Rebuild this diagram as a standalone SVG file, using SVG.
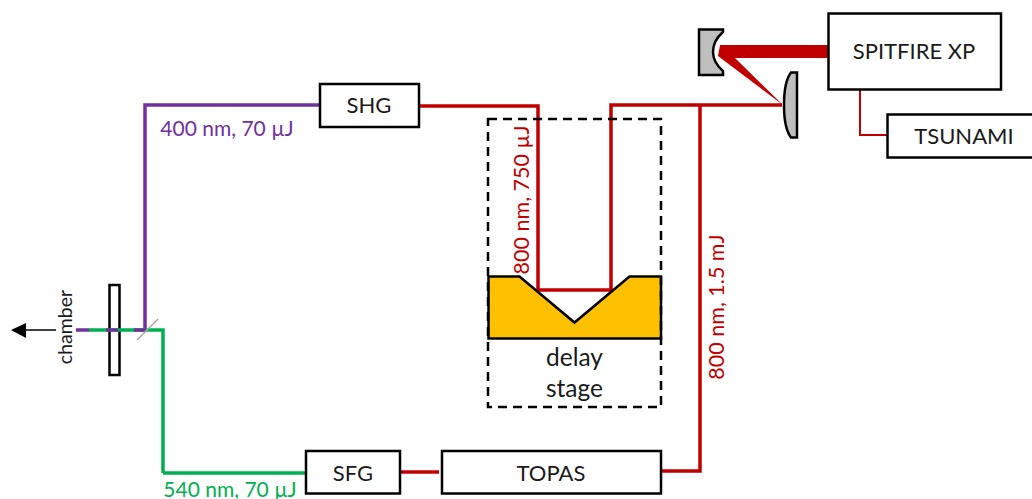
<svg xmlns="http://www.w3.org/2000/svg" width="1032" height="499" viewBox="0 0 1032 499">
<style>
text{font-family:"Lato","Liberation Sans",sans-serif;font-size:22px;fill:#1a1a1a;text-anchor:middle}
.box{fill:#fff;stroke:#000;stroke-width:2.5}
.mir{fill:#bfbfbf;stroke:#000;stroke-width:2.5}
.r{fill:none;stroke:#c00000;stroke-width:3.5}
.p{fill:none;stroke:#7030a0;stroke-width:3.5}
.g{fill:none;stroke:#00b050;stroke-width:3.5}
text.lr{fill:#c00000;font-size:21.500px}
text.lp{fill:#7030a0;font-size:21px}
text.lg{fill:#00b050;font-size:21px}
</style>
<rect width="1032" height="499" fill="#fff"/>
<g id="plate"><rect class="box" x="109.500" y="285" width="10" height="90"/></g>
<g id="connectors">
<path class="r" d="M419 106H538V290H611V105H782"/>
<path class="r" d="M700 105V471H662"/>
<path class="r" d="M400 472H439"/>
<path class="r" style="stroke-width:2" d="M860 90V135H888"/>
<path fill="#c00000" d="M720 45H829V58H735L783 105L718 56Z"/>
<path class="p" d="M321 105H145V329"/>
<path class="g" d="M163 473V330H89"/>
<path class="g" d="M163 473H306"/>
<path class="p" d="M76 330H89M106 330H118M134 330H146"/>
<path fill="none" stroke="#a6a6a6" stroke-width="1.5" d="M137 340L158 319"/>
<path fill="none" stroke="#000" stroke-width="1.5" d="M56 330H22"/>
<path fill="#000" d="M11 330L26 323V338Z"/>
</g>
<g id="shg"><rect class="box" x="320" y="84" width="99" height="43"/><text x="369" y="113">SHG</text></g>
<g id="spitfire"><rect class="box" x="828.500" y="13.500" width="172.500" height="76"/><text x="914" y="59">SPITFIRE XP</text></g>
<g id="tsunami"><rect class="box" x="887.500" y="114.500" width="150" height="43"/><text x="964" y="144">TSUNAMI</text></g>
<g id="sfg"><rect class="box" x="306" y="451" width="94" height="42.500"/><text x="353" y="481">SFG</text></g>
<g id="topas"><rect class="box" x="442" y="451" width="219" height="42.500"/><text x="551" y="481">TOPAS</text></g>
<g id="mirror-left"><path class="mir" d="M699 29.500H723V32C716 38 713 45 713 52C713 59 716 65 723 71V75H699Z"/></g>
<g id="mirror-right"><path class="mir" d="M797 72.500V137.500H791C786 131 784 118 784 105C784 92 786 79 791 72.500Z"/></g>
<g id="delay-stage">
<path fill="#ffc000" stroke="#000" stroke-width="2.500" d="M488.500 276.500H519.500L574.500 322.500L629.500 276.500H661V338.500H488.500Z"/>
<rect x="488" y="119" width="173" height="288" fill="none" stroke="#000" stroke-width="2.500" stroke-dasharray="9 6"/>
<text style="font-size:24.500px" x="574.500" y="366">delay</text><text style="font-size:24.500px" x="574.500" y="397">stage</text>
</g>
<g id="labels">
<text class="lp" x="227" y="136">400 nm, 70 µJ</text>
<text class="lg" x="230" y="497">540 nm, 70 µJ</text>
<text class="lr" transform="translate(529 200) rotate(-90)">800 nm, 750 µJ</text>
<text class="lr" transform="translate(724 307) rotate(-90)">800 nm, 1.5 mJ</text>
<text style="font-size:19.500px" transform="translate(72 327) rotate(-90)">chamber</text>
</g>
</svg>
